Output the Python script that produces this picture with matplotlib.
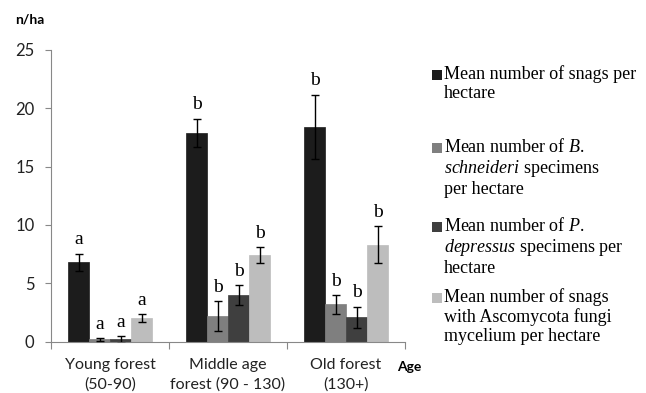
import matplotlib.pyplot as plt
from matplotlib.patches import Rectangle
import numpy as np

plt.rcParams['mathtext.fontset'] = 'custom'
plt.rcParams['mathtext.rm'] = 'Liberation Serif'
plt.rcParams['mathtext.it'] = 'Liberation Serif:italic'

categories = ['Young forest\n(50-90)', 'Middle age\nforest (90 - 130)', 'Old forest\n(130+)']
snags = [6.8, 17.9, 18.4]
snags_err = [0.75, 1.2, 2.75]
schneideri = [0.2, 2.2, 3.2]
schneideri_err = [0.1, 1.25, 0.8]
depressus = [0.2, 4.0, 2.1]
depressus_err = [0.3, 0.85, 0.9]
ascomycota = [2.0, 7.4, 8.3]
ascomycota_err = [0.35, 0.7, 1.6]
letters = [['a', 'a', 'a', 'a'], ['b', 'b', 'b', 'b'], ['b', 'b', 'b', 'b']]

series = [snags, schneideri, depressus, ascomycota]
errors = [snags_err, schneideri_err, depressus_err, ascomycota_err]
colors = ['#1c1c1c', '#7f7f7f', '#3f3f3f', '#bdbdbd']

fig = plt.figure(figsize=(6.46, 3.93), dpi=100)
ax = fig.add_axes([0.079, 0.1305, 0.548, 0.743])

x = np.arange(len(categories))
w = 0.178
for i, (vals, errs, c) in enumerate(zip(series, errors, colors)):
    pos = x + (i - 1.5) * w
    ax.bar(pos, vals, w, color=c, edgecolor=c, linewidth=0.5, zorder=2)
    ax.errorbar(pos, vals, yerr=errs, fmt='none', ecolor='black',
                elinewidth=1, capsize=3, capthick=1, zorder=3)
    for j in range(len(categories)):
        ax.text(pos[j], vals[j] + errs[j] + 0.45, letters[j][i], ha='center',
                va='bottom', fontsize=14, family='Liberation Serif')

ax.set_xlim(-0.5, 2.5)
ax.set_ylim(0, 25)
ax.set_yticks([0, 5, 10, 15, 20, 25])
ax.set_xticks([-0.5, 0.5, 1.5, 2.5])
ax.set_xticklabels([])
ax.set_xticks(x, minor=True)
ax.set_xticklabels(categories, minor=True, family='Lato', fontsize=11.5,
                   linespacing=1.45, color='#222222')
ax.tick_params(axis='x', which='minor', length=0, pad=12)
ax.tick_params(axis='x', which='major', length=5, color='#888888')
ax.tick_params(axis='y', length=4, color='#888888', labelsize=12, pad=8,
               labelcolor='#222222')
for lab in ax.get_yticklabels():
    lab.set_family('Lato')
ax.spines['top'].set_visible(False)
ax.spines['right'].set_visible(False)
ax.spines['left'].set_color('#888888')
ax.spines['bottom'].set_color('#888888')

fig.text(15 / 646, 1 - 20 / 393, 'n/ha', fontsize=10, weight='bold', family='Lato', va='center')
fig.text(397 / 646, 1 - 367 / 393, 'Age', fontsize=10, weight='bold', family='Lato', va='center')

# legend entries drawn by hand
legend_items = [
    (75, 'Mean number of snags per\nhectare'),
    (148, 'Mean number of $\\mathit{B.}$\n$\\mathit{schneideri}$ specimens\nper hectare'),
    (227, 'Mean number of $\\mathit{P.}$\n$\\mathit{depressus}$ specimens per\nhectare'),
    (298, 'Mean number of snags\nwith Ascomycota fungi\nmycelium per hectare'),
]
for (ypix, label), c in zip(legend_items, colors):
    fig.add_artist(Rectangle((432 / 646, 1 - (ypix + 5) / 393), 10 / 646, 10 / 393,
                             facecolor=c, edgecolor='none', transform=fig.transFigure))
    fig.text(444 / 646, 1 - (ypix - 10) / 393, label, fontsize=13,
             family='Liberation Serif', va='top', ha='left', linespacing=1.15)

fig.savefig('out.png', dpi=100)
